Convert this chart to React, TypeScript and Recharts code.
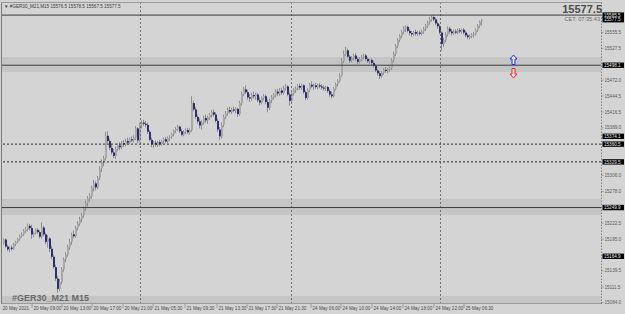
import { ComposedChart, Bar, XAxis, YAxis, ReferenceLine, ReferenceArea, ReferenceDot } from "recharts"

// GER30 M15 candles, [open, high, low, close]
const ohlc: number[][] = [
  [15188, 15196, 15185, 15194], [15194, 15196, 15180, 15182], [15182, 15185, 15174, 15177], [15177, 15182, 15172, 15180],
  [15180, 15184, 15175, 15178], [15178, 15188, 15176, 15186], [15186, 15192, 15183, 15190], [15190, 15197, 15188, 15195],
  [15195, 15203, 15192, 15200], [15200, 15207, 15197, 15203], [15203, 15212, 15200, 15209], [15209, 15216, 15206, 15212],
  [15212, 15222, 15208, 15218], [15218, 15221, 15210, 15214], [15214, 15220, 15195, 15203], [15203, 15208, 15198, 15206],
  [15206, 15213, 15203, 15211], [15211, 15214, 15204, 15207], [15207, 15210, 15196, 15199], [15199, 15224, 15196, 15215],
  [15215, 15218, 15200, 15203], [15203, 15206, 15186, 15190], [15190, 15202, 15180, 15196], [15196, 15198, 15172, 15178],
  [15178, 15183, 15160, 15164], [15164, 15168, 15143, 15146], [15146, 15150, 15122, 15126], [15126, 15130, 15101, 15108],
  [15108, 15125, 15104, 15120], [15120, 15146, 15116, 15142], [15142, 15163, 15138, 15160], [15160, 15172, 15155, 15168],
  [15168, 15185, 15164, 15182], [15182, 15195, 15176, 15190], [15190, 15206, 15185, 15203], [15203, 15210, 15196, 15200],
  [15200, 15218, 15197, 15215], [15215, 15226, 15210, 15222], [15222, 15234, 15218, 15230], [15230, 15240, 15224, 15236],
  [15236, 15252, 15232, 15248], [15248, 15262, 15244, 15258], [15258, 15270, 15252, 15266], [15266, 15275, 15260, 15270],
  [15270, 15288, 15265, 15284], [15284, 15298, 15278, 15292], [15292, 15296, 15280, 15285], [15285, 15305, 15282, 15302],
  [15302, 15322, 15298, 15318], [15318, 15334, 15312, 15330], [15330, 15340, 15322, 15336], [15336, 15382, 15332, 15375],
  [15375, 15383, 15362, 15366], [15366, 15370, 15350, 15354], [15354, 15360, 15342, 15346], [15346, 15352, 15336, 15340],
  [15340, 15356, 15335, 15352], [15352, 15362, 15348, 15358], [15358, 15364, 15350, 15355], [15355, 15366, 15352, 15362],
  [15362, 15368, 15356, 15360], [15360, 15370, 15357, 15366], [15366, 15372, 15360, 15363], [15363, 15372, 15360, 15369],
  [15369, 15374, 15364, 15367], [15367, 15376, 15363, 15372], [15372, 15392, 15368, 15388], [15388, 15390, 15362, 15367],
  [15367, 15398, 15364, 15394], [15394, 15402, 15388, 15398], [15398, 15403, 15392, 15396], [15396, 15401, 15390, 15394],
  [15394, 15398, 15378, 15382], [15382, 15385, 15365, 15368], [15368, 15372, 15355, 15360], [15360, 15366, 15354, 15363],
  [15363, 15367, 15356, 15359], [15359, 15366, 15355, 15364], [15364, 15368, 15357, 15361], [15361, 15368, 15358, 15366],
  [15366, 15372, 15362, 15369], [15369, 15373, 15362, 15365], [15365, 15374, 15362, 15371], [15371, 15376, 15366, 15373],
  [15373, 15380, 15370, 15378], [15378, 15386, 15374, 15384], [15384, 15390, 15380, 15387], [15387, 15394, 15384, 15391],
  [15391, 15393, 15380, 15383], [15383, 15387, 15374, 15377], [15377, 15385, 15374, 15382], [15382, 15388, 15378, 15385],
  [15385, 15389, 15378, 15381], [15381, 15388, 15377, 15385], [15385, 15444, 15382, 15432], [15432, 15436, 15418, 15421],
  [15421, 15425, 15404, 15408], [15408, 15412, 15396, 15400], [15400, 15405, 15388, 15393], [15393, 15402, 15386, 15398],
  [15398, 15410, 15394, 15406], [15406, 15412, 15398, 15402], [15402, 15410, 15396, 15407], [15407, 15415, 15403, 15411],
  [15411, 15420, 15407, 15416], [15416, 15421, 15408, 15412], [15412, 15416, 15398, 15401], [15401, 15405, 15382, 15386],
  [15386, 15390, 15368, 15374], [15374, 15398, 15370, 15394], [15394, 15412, 15390, 15408], [15408, 15418, 15404, 15414],
  [15414, 15424, 15410, 15420], [15420, 15426, 15414, 15417], [15417, 15424, 15413, 15421], [15421, 15426, 15416, 15419],
  [15419, 15425, 15414, 15422], [15422, 15424, 15408, 15413], [15413, 15436, 15410, 15432], [15432, 15452, 15428, 15448],
  [15448, 15460, 15444, 15456], [15456, 15463, 15448, 15451], [15451, 15455, 15438, 15442], [15442, 15448, 15434, 15440],
  [15440, 15450, 15436, 15446], [15446, 15452, 15440, 15444], [15444, 15450, 15438, 15447], [15447, 15450, 15434, 15437],
  [15437, 15442, 15428, 15433], [15433, 15444, 15430, 15441], [15441, 15448, 15437, 15444], [15444, 15447, 15430, 15434],
  [15434, 15438, 15416, 15424], [15424, 15440, 15420, 15437], [15437, 15446, 15432, 15442], [15442, 15450, 15438, 15446],
  [15446, 15456, 15442, 15452], [15452, 15457, 15444, 15449], [15449, 15458, 15445, 15454], [15454, 15459, 15446, 15450],
  [15450, 15462, 15447, 15458], [15458, 15465, 15454, 15461], [15461, 15463, 15444, 15447], [15447, 15450, 15428, 15436],
  [15436, 15452, 15433, 15449], [15449, 15458, 15445, 15455], [15455, 15461, 15450, 15458], [15458, 15465, 15454, 15462],
  [15462, 15466, 15455, 15459], [15459, 15466, 15455, 15463], [15463, 15465, 15448, 15451], [15451, 15454, 15437, 15441],
  [15441, 15458, 15438, 15455], [15455, 15467, 15451, 15464], [15464, 15470, 15458, 15461], [15461, 15466, 15455, 15463],
  [15463, 15467, 15457, 15460], [15460, 15466, 15456, 15463], [15463, 15467, 15458, 15461], [15461, 15465, 15455, 15459],
  [15459, 15463, 15454, 15458], [15458, 15462, 15453, 15460], [15460, 15462, 15450, 15453], [15453, 15456, 15443, 15447],
  [15447, 15452, 15440, 15444], [15444, 15460, 15442, 15457], [15457, 15468, 15454, 15465], [15465, 15474, 15461, 15471],
  [15471, 15484, 15468, 15480], [15480, 15510, 15478, 15505], [15505, 15524, 15502, 15518], [15518, 15530, 15514, 15524],
  [15524, 15527, 15510, 15513], [15513, 15516, 15502, 15506], [15506, 15514, 15503, 15511], [15511, 15518, 15507, 15515],
  [15515, 15519, 15506, 15509], [15509, 15512, 15500, 15504], [15504, 15512, 15501, 15509], [15509, 15516, 15505, 15513],
  [15513, 15518, 15508, 15515], [15515, 15518, 15506, 15509], [15509, 15512, 15502, 15505], [15505, 15510, 15500, 15507],
  [15507, 15510, 15498, 15502], [15502, 15506, 15494, 15497], [15497, 15500, 15486, 15489], [15489, 15492, 15480, 15484],
  [15484, 15488, 15474, 15479], [15479, 15488, 15476, 15485], [15485, 15493, 15481, 15490], [15490, 15495, 15485, 15488],
  [15488, 15494, 15484, 15491], [15491, 15496, 15486, 15493], [15493, 15510, 15490, 15507], [15507, 15522, 15503, 15518],
  [15518, 15535, 15514, 15532], [15532, 15545, 15528, 15542], [15542, 15552, 15538, 15549], [15549, 15560, 15545, 15556],
  [15556, 15566, 15552, 15562], [15562, 15568, 15556, 15565], [15565, 15567, 15555, 15558], [15558, 15561, 15550, 15554],
  [15554, 15558, 15548, 15552], [15552, 15558, 15549, 15556], [15556, 15560, 15550, 15553], [15553, 15558, 15549, 15555],
  [15555, 15559, 15550, 15553], [15553, 15560, 15550, 15557], [15557, 15565, 15553, 15562], [15562, 15570, 15558, 15567],
  [15567, 15576, 15563, 15573], [15573, 15582, 15569, 15578], [15578, 15585, 15574, 15582], [15582, 15586, 15575, 15578],
  [15578, 15581, 15568, 15571], [15571, 15574, 15562, 15566], [15566, 15569, 15552, 15555], [15555, 15557, 15523, 15535],
  [15535, 15546, 15530, 15542], [15542, 15556, 15538, 15552], [15552, 15566, 15548, 15562], [15562, 15565, 15553, 15557],
  [15557, 15561, 15550, 15554], [15554, 15560, 15551, 15557], [15557, 15561, 15552, 15555], [15555, 15562, 15552, 15559],
  [15559, 15563, 15554, 15557], [15557, 15562, 15553, 15560], [15560, 15563, 15552, 15555], [15555, 15558, 15547, 15550],
  [15550, 15553, 15544, 15547], [15547, 15552, 15543, 15549], [15549, 15554, 15545, 15551], [15551, 15556, 15546, 15553],
  [15553, 15562, 15550, 15559], [15559, 15570, 15556, 15567], [15567, 15576, 15563, 15574], [15576.5, 15578.5, 15567.5, 15577.5],
]

const timeTicks = [-1, 14, 29, 44, 59.5, 74.5, 90.5, 106.5, 121.5, 136.5, 153.5, 168.5, 184, 199.5, 215, 230]
const timeLabels = [
  "20 May 2021", "20 May 09:00", "20 May 13:00", "20 May 17:00", "20 May 21:00", "21 May 05:30",
  "21 May 09:30", "21 May 13:30", "21 May 17:30", "21 May 21:30", "24 May 06:00", "24 May 10:00",
  "24 May 14:00", "24 May 18:00", "24 May 22:00", "25 May 06:30",
]
const priceTicks = [15555.5, 15527.5, 15472.0, 15444.5, 15416.5, 15389.0, 15306.0, 15278.0, 15222.5, 15195.0, 15139.5, 15111.5, 15084.0]
const solidLevels = [15585.5, 15498.1, 15249.9]
const dottedLevels = [15360.5, 15329.5]
const boxLevels = [15585.5, 15577.5, 15498.1, 15374.1, 15360.5, 15329.5, 15249.9, 15164.9]
const bands = [[15486.2, 15512.4], [15236.9, 15264.8], [15083.5, 15095.7]]
const daySeparators = [68.25, 143.75, 218.25]

const data = ohlc.map((c, i) => ({ i, open: c[0], high: c[1], low: c[2], close: c[3] }))

const BG = "#d4d4d4"
const FONT = "'Liberation Sans', Arial, sans-serif"

function Candle(props: any) {
  const { x, y, width, height, payload } = props
  if (x == null || payload == null) return null
  const top = Math.min(y, y + height)
  const h = Math.abs(height)
  const { open, high, low, close } = payload
  const span = high - low || 1
  const yO = top + ((high - open) / span) * h
  const yC = top + ((high - close) / span) * h
  const bull = close >= open
  const left = Math.round(x)
  const bTop = Math.min(yO, yC)
  const bH = Math.max(Math.abs(yC - yO), 1)
  return (
    <g>
      <line x1={left + 0.5} x2={left + 0.5} y1={top} y2={top + h} stroke="#8e8e8e" strokeWidth={1} />
      <rect x={left} y={bTop} width={2} height={bH} fill={bull ? "#a8a8a8" : "#2e2e6e"} />
    </g>
  )
}

function TimeTick(props: any) {
  const { x, payload } = props
  const k = timeTicks.indexOf(payload.value)
  const first = k === 0
  return (
    <g>
      {!first && <line x1={x} x2={x} y1={304} y2={308} stroke="#777" strokeWidth={0.6} />}
      <text x={first ? x + 0.5 : x + 1.5} y={310} fontSize={4.6} fill="#4a4a4a" fontFamily={FONT}>
        {timeLabels[k]}
      </text>
    </g>
  )
}

function PriceTick(props: any) {
  const { x, y, payload } = props
  return (
    <g>
      <line x1={x} x2={x + 2.5} y1={y} y2={y} stroke="#777" strokeWidth={0.6} />
      <text x={x + 3.5} y={y + 1.6} fontSize={4.6} fill="#5a5a5a" fontFamily={FONT}>
        {payload.value.toFixed(1)}
      </text>
    </g>
  )
}

function PriceBox(props: any) {
  const { viewBox, value } = props
  if (!viewBox) return null
  const bx = viewBox.x + viewBox.width + 1.5
  const by = viewBox.y
  return (
    <g>
      <rect x={bx} y={by - 2.7} width={21.5} height={5.4} fill="#000" />
      <text x={bx + 1.5} y={by + 1.6} fontSize={4.6} fill="#e8e8e8" fontFamily={FONT}>
        {value.toFixed(1)}
      </text>
    </g>
  )
}

function UpArrow(props: any) {
  const { cx, cy } = props
  const d = `M${cx} ${cy - 5} L${cx + 3.5} ${cy - 1} L${cx + 1.5} ${cy - 1} L${cx + 1.5} ${cy + 4.5} L${cx - 1.5} ${cy + 4.5} L${cx - 1.5} ${cy - 1} L${cx - 3.5} ${cy - 1} Z`
  return <path d={d} fill="#e6e6f4" stroke="#2233ee" strokeWidth={1} />
}

function DownArrow(props: any) {
  const { cx, cy } = props
  const d = `M${cx} ${cy + 5} L${cx + 3.5} ${cy + 1} L${cx + 1.5} ${cy + 1} L${cx + 1.5} ${cy - 4.5} L${cx - 1.5} ${cy - 4.5} L${cx - 1.5} ${cy + 1} L${cx - 3.5} ${cy + 1} Z`
  return <path d={d} fill="#f4e6e6" stroke="#ee2222" strokeWidth={1} />
}

export default function App() {
  return (
    <div style={{ position: "absolute", left: 0, top: 0, width: 625, height: 314, background: BG, overflow: "hidden" }}>
      <ComposedChart width={625} height={314} data={data} margin={{ top: 3, right: 0, bottom: 0, left: 2 }}>
        <XAxis
          dataKey="i"
          type="number"
          domain={[-1, 298.5]}
          allowDataOverflow
          ticks={timeTicks}
          interval={0}
          tick={<TimeTick />}
          axisLine={false}
          tickLine={false}
          height={10}
        />
        <YAxis
          type="number"
          orientation="right"
          domain={[15081.7, 15606.6]}
          allowDataOverflow
          ticks={priceTicks}
          interval={0}
          tick={<PriceTick />}
          tickSize={0}
          tickMargin={0}
          axisLine={false}
          tickLine={false}
          width={24}
        />
        {bands.map((b, k) => (
          <ReferenceArea key={"b" + k} y1={b[0]} y2={b[1]} fill="#c5c5c5" fillOpacity={1} stroke="none" />
        ))}
        {daySeparators.map((v) => (
          <ReferenceLine key={"d" + v} x={v} stroke="#5a5a5a" strokeWidth={0.8} strokeDasharray="2 2" />
        ))}
        {solidLevels.map((v) => (
          <ReferenceLine key={"s" + v} y={v} stroke="#3a3a3a" strokeWidth={1} />
        ))}
        {dottedLevels.map((v) => (
          <ReferenceLine key={"t" + v} y={v} stroke="#2a2a2a" strokeWidth={1} strokeDasharray="2 2" />
        ))}
        <Bar dataKey={(d: any) => [d.low, d.high]} barSize={2} shape={<Candle />} isAnimationActive={false} />
        {boxLevels.map((v) => (
          <ReferenceLine key={"l" + v} y={v} stroke="none" label={<PriceBox value={v} />} />
        ))}
        <ReferenceDot x={254.75} y={15507.2} r={4} shape={(p: any) => <UpArrow {...p} />} />
        <ReferenceDot x={254.75} y={15484.5} r={4} shape={(p: any) => <DownArrow {...p} />} />
      </ComposedChart>
      <svg width={625} height={314} style={{ position: "absolute", left: 0, top: 0, pointerEvents: "none" }}>
        <line x1={1.5} x2={1.5} y1={2.5} y2={304} stroke="#7a7a7a" strokeWidth={1} />
        <line x1={1.5} x2={601.5} y1={2.5} y2={2.5} stroke="#9a9a9a" strokeWidth={1} />
        <line x1={1.5} x2={601.5} y1={303.5} y2={303.5} stroke="#9a9a9a" strokeWidth={1} />
        <line x1={601.5} x2={601.5} y1={2.5} y2={304} stroke="#6a6a6a" strokeWidth={0.8} strokeDasharray="1.5 1.5" />
        <text x={4} y={7.5} fontSize={4.6} fill="#3a3a3a" fontFamily={FONT}>
          ▼ #GER30_M21,M15  15576.5 15578.5 15567.5 15577.5
        </text>
        <text x={602} y={12.5} fontSize={11} fontWeight="bold" fill="#4c4c4c" textAnchor="end" fontFamily={FONT}>
          15577.5
        </text>
        <text x={600} y={20.5} fontSize={5.6} fill="#6a6a6a" textAnchor="end" fontFamily={FONT}>
          CET:    07:35:43
        </text>
        <text x={12} y={300.5} fontSize={9} fontWeight="bold" fill="#6a6a6a" fontFamily={FONT}>
          #GER30_M21 M15
        </text>
      </svg>
    </div>
  )
}
